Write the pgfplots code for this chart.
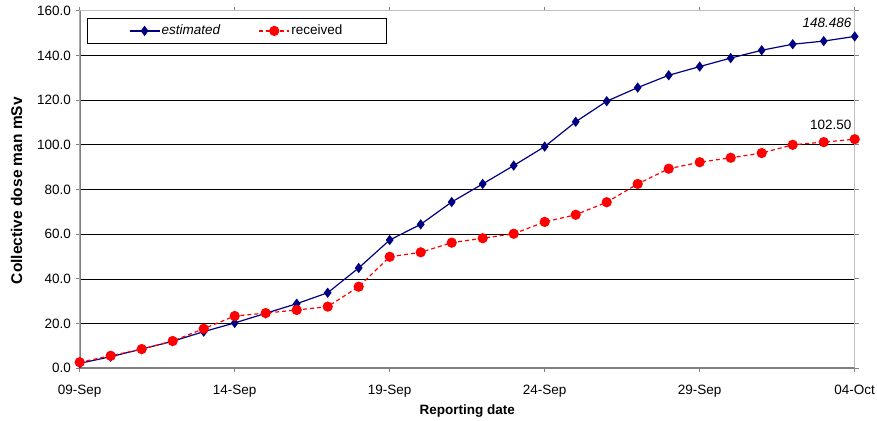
\documentclass[border=0pt]{standalone}
\usepackage{fontspec}
\setmainfont{Liberation Sans}
\usepackage{pgfplots}
\pgfplotsset{compat=1.18}
\usetikzlibrary{calc}
\definecolor{estblue}{HTML}{000080}
\definecolor{axgray}{HTML}{808080}

% day index 0 = 09-Sep
\pgfplotstableread{
day est
0 2.2
1 5.2
2 8.6
3 12.1
4 16.4
5 20.3
6 24.6
7 28.9
8 33.8
9 44.9
10 57.4
11 64.4
12 74.4
13 82.5
14 90.7
15 99.2
16 110.3
17 119.5
18 125.6
19 131.1
20 135.0
21 138.8
22 142.3
23 145.0
24 146.4
25 148.486
}\estimated
\pgfplotstableread{
day rec
0 2.7
1 5.6
2 8.6
3 12.2
4 17.7
5 23.4
6 24.7
7 26.1
8 27.6
9 36.5
10 49.9
11 51.9
12 56.2
13 58.2
14 60.2
15 65.5
16 68.7
17 74.3
18 82.5
19 89.3
20 92.2
21 94.2
22 96.3
23 100.0
24 101.2
25 102.5
}\received

\begin{document}
\fontsize{13.5}{16}\selectfont
\begin{tikzpicture}
\begin{axis}[
name=ax,
scale only axis,
width=775pt, height=357.6pt,
xmin=0, xmax=25, ymin=0, ymax=160,
xtick={0,5,...,25},
xticklabels={09-Sep,14-Sep,19-Sep,24-Sep,29-Sep,04-Oct},
ytick={0,20,...,160},
/pgf/number format/assume math mode=true,
yticklabel style={/pgf/number format/.cd, fixed, fixed zerofill, precision=1},
xticklabel style={yshift=-8pt},
tick align=outside,
major tick length=4pt,
tick style={axgray, line width=1pt},
axis line style={draw=gray!50, line width=0.8pt},
ymajorgrids,
major grid style={black, line width=0.7pt},
xlabel={\bfseries Reporting date},
ylabel={\fontsize{15.5}{18}\selectfont\bfseries Collective dose man mSv},
xlabel style={at={(axis description cs:0.5,-0.119)}, anchor=center},
ylabel style={at={(axis description cs:-0.0815,0.497)}, anchor=center, rotate=0},
legend columns=-1,
legend style={
  at={(axis description cs:0.009,0.979)}, anchor=north west,
  draw=black, line width=0.6pt,
  inner xsep=42pt, inner ysep=5pt,
  nodes={inner sep=1.5pt},
  /tikz/every even column/.append style={column sep=37pt},
},
legend image code/.code={
  \draw[mark repeat=2, mark phase=2, #1]
    plot coordinates {(0pt,0pt) (15pt,0pt) (30pt,0pt)};
},
]
\draw[axgray, line width=2pt] (rel axis cs:0,1) -- (rel axis cs:0,0) -- (rel axis cs:1,0);
\addplot[estblue, line width=1.2pt, mark=diamond*, mark size=4.2pt,
  mark options={solid, fill=estblue}] table[x=day, y=est] {\estimated};
\addlegendentry{\itshape estimated}
\addplot[red, line width=1.2pt, dash pattern=on 4pt off 3pt, mark=*, mark size=4.5pt,
  mark options={solid, fill=red}] table[x=day, y=rec] {\received};
\addlegendentry{received}
\node[anchor=south east, inner sep=0pt, xshift=-3pt, yshift=8.5pt] at (axis cs:25,148.486) {\itshape 148.486};
\node[anchor=south east, inner sep=0pt, xshift=-3pt, yshift=9pt] at (axis cs:25,102.5) {102.50};
\end{axis}
\pgfresetboundingbox
\path[use as bounding box] ($(ax.south west)+(-79.7pt,-51.7pt)$) rectangle +(877pt,420pt);
\end{tikzpicture}
\end{document}
